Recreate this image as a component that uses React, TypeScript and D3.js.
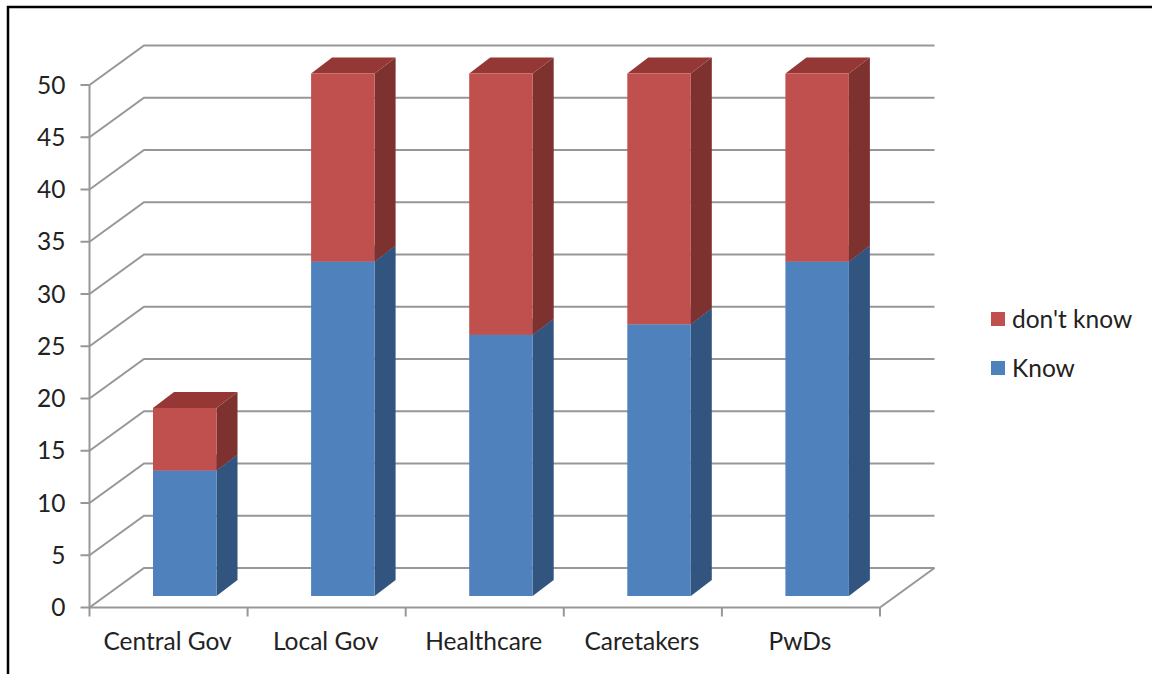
import React from "react";
import * as d3 from "d3";

const categories = ["Central Gov", "Local Gov", "Healthcare", "Caretakers", "PwDs"];
const knowValues = [12, 32, 25, 26, 32];
const dontKnowValues = [6, 18, 25, 24, 18];
const yTicks = [0, 5, 10, 15, 20, 25, 30, 35, 40, 45, 50];

const WIDTH = 1152;
const HEIGHT = 674;
const FONT = "Lato, 'Open Sans', sans-serif";
const FONT_SIZE = 24.5;
const GRID = "#979797";
const INK = "#222";

// Front plane of the 3D plot box and the depth of its floor.
const x = d3.scaleBand<string>().domain(categories).range([89.5, 880]).paddingInner(0).paddingOuter(0);
const y = d3.scaleLinear().domain([0, 50]).range([607.5, 85]);
const wallDx = 54.5;
const wallDy = -39.5;

// Bars sit part-way into the box.
const barInsetX = 63.5;
const barWidth = 63.5;
const barLift = -11.5;
const barDepthX = 21;
const barDepthY = -16;

const poly = (pts: [number, number][]) => d3.line()(pts) + "Z";

function Segment({ i, from, to, front, side, top }: { i: number; from: number; to: number; front: string; side: string; top: string }) {
  const x0 = x(categories[i])! + barInsetX;
  const x1 = x0 + barWidth;
  const yb = y(from) + barLift;
  const yt = y(to) + barLift;
  return (
    <g>
      <path d={poly([[x1, yb], [x1 + barDepthX, yb + barDepthY], [x1 + barDepthX, yt + barDepthY], [x1, yt]])} fill={side} />
      <path d={poly([[x0, yt], [x1, yt], [x1 + barDepthX, yt + barDepthY], [x0 + barDepthX, yt + barDepthY]])} fill={top} />
      <rect x={x0} y={yt} width={barWidth} height={yb - yt} fill={front} />
    </g>
  );
}

export default function App() {
  const [x0, x1] = x.range();
  return (
    <svg width={WIDTH} height={HEIGHT} style={{ position: "absolute", left: 0, top: 0, background: "#fff" }}>
      {/* outer frame: top and left rules only */}
      <path d={`M8 674V7H${WIDTH}`} fill="none" stroke="#000" strokeWidth={2.5} />

      {/* gridlines running across the side wall and back wall */}
      {yTicks.map((t) => (
        <path
          key={t}
          d={d3.line()([[x0, y(t)], [x0 + wallDx, y(t) + wallDy], [x1 + wallDx, y(t) + wallDy]]) ?? ""}
          fill="none"
          stroke={GRID}
          strokeWidth={2}
        />
      ))}

      {/* floor edges and axes */}
      <path d={`M${x1} ${y(0)}L${x1 + wallDx} ${y(0) + wallDy}`} fill="none" stroke={GRID} strokeWidth={2} />
      <path d={`M${x0} ${y(50)}V${y(0)}H${x1}`} fill="none" stroke={GRID} strokeWidth={2} />

      {yTicks.map((t) => (
        <g key={t}>
          <line x1={x0 - 9} x2={x0} y1={y(t)} y2={y(t)} stroke={GRID} strokeWidth={2} />
          <text x={65.5} y={y(t) + 8.5} textAnchor="end" fontFamily={FONT} fontSize={FONT_SIZE} fill={INK}>
            {t}
          </text>
        </g>
      ))}

      {[...categories.map((c) => x(c)!), x1].map((p, i) => (
        <line key={i} x1={p} x2={p} y1={y(0)} y2={y(0) + 9} stroke={GRID} strokeWidth={2} />
      ))}

      {/* stacked bars */}
      {categories.map((c, i) => (
        <g key={c}>
          <Segment i={i} from={0} to={knowValues[i]} front="#4F81BD" side="#325580" top="#3A679C" />
          <Segment i={i} from={knowValues[i]} to={knowValues[i] + dontKnowValues[i]} front="#C0504D" side="#7E3230" top="#953735" />
        </g>
      ))}

      {categories.map((c) => (
        <text key={c} x={x(c)! + x.bandwidth() / 2 - 1} y={650} textAnchor="middle" fontFamily={FONT} fontSize={FONT_SIZE} fill={INK}>
          {c}
        </text>
      ))}

      {/* legend */}
      <rect x={991} y={312} width={14} height={14} fill="#C0504D" />
      <text x={1012} y={327.5} fontFamily={FONT} fontSize={FONT_SIZE} fill={INK}>don't know</text>
      <rect x={991} y={361} width={14} height={14} fill="#4F81BD" />
      <text x={1012} y={376.5} fontFamily={FONT} fontSize={FONT_SIZE} fill={INK}>Know</text>
    </svg>
  );
}
